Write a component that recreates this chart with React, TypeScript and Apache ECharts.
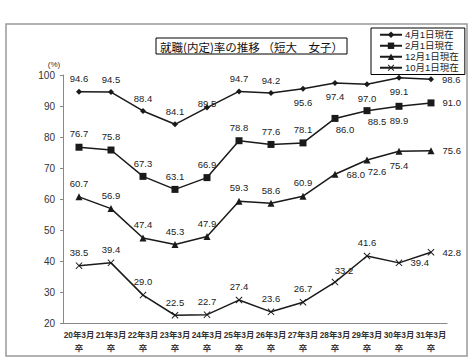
import React, { useEffect, useRef } from "react";
import * as echarts from "echarts";

const categories = ["20年3月\n卒", "21年3月\n卒", "22年3月\n卒", "23年3月\n卒", "24年3月\n卒", "25年3月\n卒", "26年3月\n卒", "27年3月\n卒", "28年3月\n卒", "29年3月\n卒", "30年3月\n卒", "31年3月\n卒"];
const seriesNames = ["4月1日現在", "2月1日現在", "12月1日現在", "10月1日現在"];
const apr = [94.6, 94.5, 88.4, 84.1, 89.5, 94.7, 94.2, 95.6, 97.4, 97.0, 99.1, 98.6];
const feb = [76.7, 75.8, 67.3, 63.1, 66.9, 78.8, 77.6, 78.1, 86.0, 88.5, 89.9, 91.0];
const dec = [60.7, 56.9, 47.4, 45.3, 47.9, 59.3, 58.6, 60.9, 68.0, 72.6, 75.4, 75.6];
const oct = [38.5, 39.4, 29.0, 22.5, 22.7, 27.4, 23.6, 26.7, 33.2, 41.6, 39.4, 42.8];
const yTicks = [20, 30, 40, 50, 60, 70, 80, 90, 100];

// label placement codes (styling, separate from data)
const aprPos = ["t", "t", "t", "t", "tc", "t", "t", "b", "b", "b", "b", "r"];
const febPos = ["t", "t", "t", "t", "t", "t", "t", "t", "br", "br", "b", "r"];
const decPos = ["t", "t", "t", "t", "t", "t", "t", "t", "r", "br", "b", "r"];
const octPos = ["t", "t", "t", "t", "t", "t", "t", "t", "tr", "t", "r", "r"];

const FONT = "'Liberation Sans', 'Noto Sans CJK JP', sans-serif";
const INK = "#1a1a1a";

function labelFor(code: string) {
  switch (code) {
    case "b":
      return { position: "bottom", distance: 6 };
    case "r":
      return { position: "right", distance: 8 };
    case "br":
      return { position: "bottom", distance: 3, offset: [10, 0] };
    case "tr":
      return { position: "top", distance: 3, offset: [9, 0] };
    case "tc":
      return { position: "top", distance: 0, offset: [0, 4] };
    default:
      return { position: "top", distance: 5 };
  }
}

function buildData(values: number[], pos: string[]) {
  return values.map((v, i) => ({ value: v, label: labelFor(pos[i]) }));
}

const CROSS = "path://M0,1 L1,0 L5,4 L9,0 L10,1 L6,5 L10,9 L9,10 L5,6 L1,10 L0,9 L4,5 Z";

export default function App() {
  const ref = useRef<HTMLDivElement>(null);
  useEffect(() => {
    if (!ref.current) return;
    const chart = echarts.init(ref.current, null, { renderer: "svg" });
    const baseSeries = {
      type: "line",
      lineStyle: { color: INK, width: 1.5 },
      itemStyle: { color: INK },
      label: {
        show: true,
        fontSize: 9.5,
        color: "#222",
        fontFamily: FONT,
        formatter: (p: any) => Number(p.value).toFixed(1),
      },
    };
    const option: any = {
      animation: false,
      backgroundColor: "#fff",
      textStyle: { fontFamily: FONT },
      grid: { left: 63, right: 27, top: 75, bottom: 38 },
      legend: {
        orient: "vertical",
        left: 371,
        top: 28,
        width: 84,
        padding: [2, 6, 2, 8],
        itemGap: 1.5,
        itemWidth: 22,
        itemHeight: 8,
        borderColor: "#000",
        borderWidth: 1,
        backgroundColor: "#fff",
        textStyle: { fontSize: 9.5, lineHeight: 9, color: "#222", fontFamily: FONT, padding: [0, 0, 0, -2] },
        data: seriesNames,
      },
      xAxis: {
        type: "category",
        data: categories,
        boundaryGap: true,
        axisLine: { lineStyle: { color: "#888", width: 1 } },
        axisTick: { inside: true, length: 4, lineStyle: { color: "#888" } },
        axisLabel: {
          interval: 0,
          fontSize: 8.4,
          fontWeight: "bold",
          color: "#333",
          lineHeight: 13,
          margin: 5,
          fontFamily: FONT,
        },
      },
      yAxis: {
        type: "value",
        min: yTicks[0],
        max: yTicks[yTicks.length - 1],
        interval: 10,
        splitLine: { show: false },
        axisLine: { show: true, lineStyle: { color: "#888", width: 1 } },
        axisTick: { show: true, length: 3, lineStyle: { color: "#888" } },
        axisLabel: { fontSize: 10, color: "#333", margin: 8, fontFamily: FONT },
      },
      graphic: [
        {
          type: "rect",
          shape: { x: 6, y: 24, width: 461, height: 332 },
          style: { fill: "none", stroke: "#999", lineWidth: 1.5 },
          silent: true,
        },
        {
          type: "rect",
          shape: { x: 156, y: 38, width: 191, height: 16 },
          style: { fill: "#fff", stroke: "#000", lineWidth: 1 },
          silent: true,
        },
        {
          type: "text",
          x: 251.5,
          y: 46.5,
          style: {
            text: "就職(内定)率の推移 （短大　女子）",
            fontSize: 11.5,
            fontFamily: "'Noto Sans CJK JP', sans-serif",
            fill: "#111",
            align: "center",
            verticalAlign: "middle",
          },
        },
        {
          type: "text",
          x: 54,
          y: 64,
          style: {
            text: "(%)",
            fontSize: 8,
            fontFamily: FONT,
            fill: "#333",
            align: "center",
            verticalAlign: "middle",
          },
        },
      ],
      series: [
        { ...baseSeries, name: seriesNames[0], symbol: "diamond", symbolSize: 6, data: buildData(apr, aprPos) },
        { ...baseSeries, name: seriesNames[1], symbol: "rect", symbolSize: 7, data: buildData(feb, febPos) },
        { ...baseSeries, name: seriesNames[2], symbol: "triangle", symbolSize: 7, data: buildData(dec, decPos) },
        { ...baseSeries, name: seriesNames[3], symbol: CROSS, symbolSize: 7, data: buildData(oct, octPos) },
      ],
    };
    chart.setOption(option);
    return () => chart.dispose();
  }, []);
  return <div ref={ref} style={{ width: 474, height: 361, position: "absolute", left: 0, top: 0 }} />;
}
